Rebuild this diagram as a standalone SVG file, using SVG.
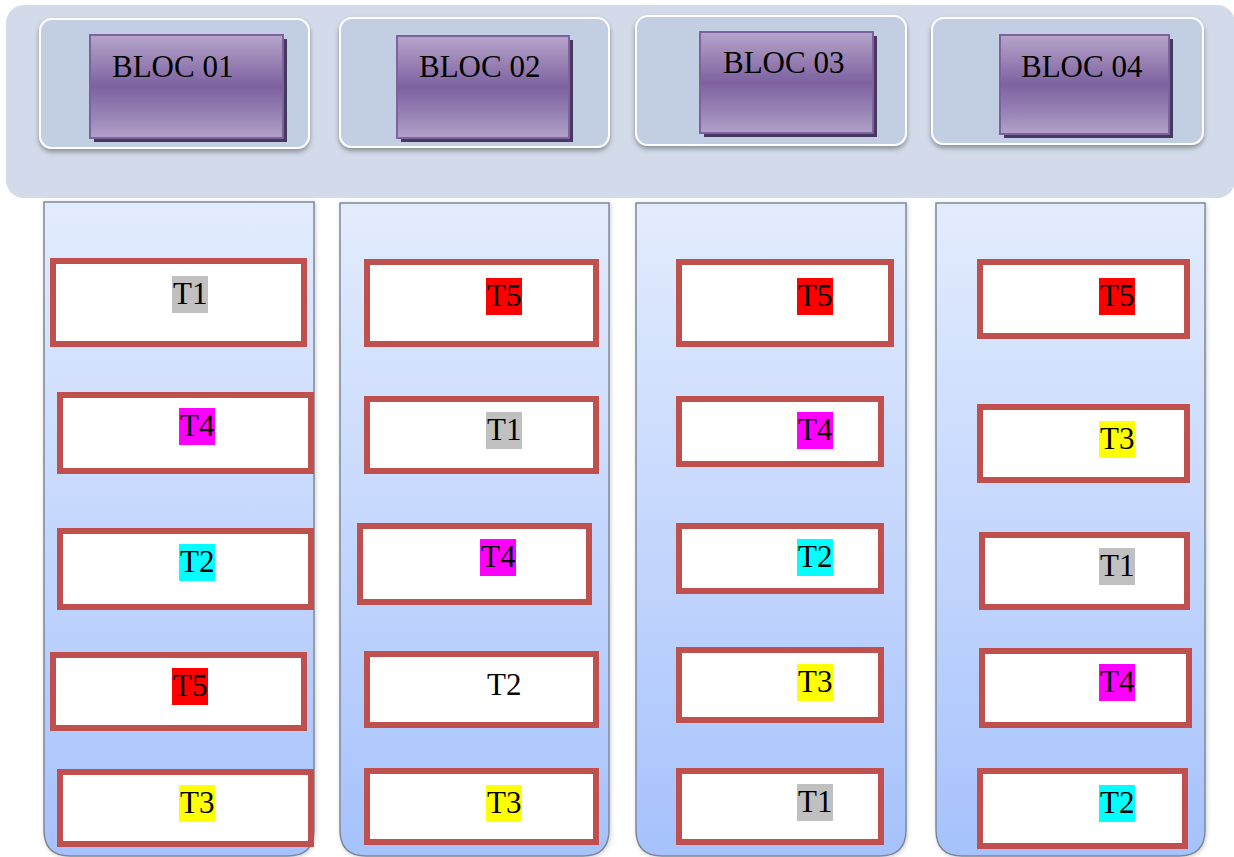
<svg xmlns="http://www.w3.org/2000/svg" width="1234" height="857" viewBox="0 0 1234 857">
<defs>
<linearGradient id="pg" x1="0" y1="0" x2="0" y2="1">
<stop offset="0" stop-color="#b5a5ca"/>
<stop offset="0.2" stop-color="#a08ab9"/>
<stop offset="0.5" stop-color="#7d62a0"/>
<stop offset="0.75" stop-color="#9480b2"/>
<stop offset="1" stop-color="#b2a1c9"/>
</linearGradient>
<linearGradient id="cg" x1="0" y1="0" x2="0" y2="1">
<stop offset="0" stop-color="#e3ecfd"/>
<stop offset="1" stop-color="#a6c2fc"/>
</linearGradient>
<filter id="sh" x="-10%" y="-10%" width="120%" height="130%">
<feDropShadow dx="0" dy="3" stdDeviation="2.5" flood-color="#000" flood-opacity="0.35"/>
</filter>
<filter id="csh" x="-5%" y="-2%" width="110%" height="104%">
<feDropShadow dx="1" dy="1" stdDeviation="2" flood-color="#000" flood-opacity="0.2"/>
</filter>
</defs>
<style>
.band{fill:#d3dbea}
.cont{fill:#c2cee1;stroke:#ffffff;stroke-width:2;filter:url(#sh)}
.pshadow{fill:#47385f}
.pbox{fill:url(#pg);stroke:#7e62a0;stroke-width:2}
.col{fill:url(#cg);stroke:#7d8898;stroke-width:1.5;filter:url(#csh)}
.task{fill:#ffffff;stroke:#c0504d;stroke-width:6}
.t{font-family:"Liberation Serif","Times New Roman",serif;font-size:31px;fill:#000}
.hg{fill:#c0c0c0}.hm{fill:#ff00ff}.hc{fill:#00ffff}.hr{fill:#ff0000}.hy{fill:#ffff00}
</style>
<rect class="band" x="6" y="5" width="1229" height="193" rx="18"/>
<g id="bloc01">
<rect class="cont" x="40" y="19" width="269" height="129" rx="12"/>
<rect class="pshadow" x="94" y="39" width="193" height="103"/>
<rect class="pbox" x="90" y="35" width="193" height="103"/>
<text class="t" x="112" y="77">BLOC 01</text>
</g>
<g id="bloc02">
<rect class="cont" x="340" y="18" width="269" height="129" rx="12"/>
<rect class="pshadow" x="401" y="40" width="172" height="102"/>
<rect class="pbox" x="397" y="36" width="172" height="102"/>
<text class="t" x="419" y="77">BLOC 02</text>
</g>
<g id="bloc03">
<rect class="cont" x="636" y="16" width="270" height="129" rx="12"/>
<rect class="pshadow" x="704" y="36" width="173" height="101"/>
<rect class="pbox" x="700" y="32" width="173" height="101"/>
<text class="t" x="723" y="73">BLOC 03</text>
</g>
<g id="bloc04">
<rect class="cont" x="932" y="18" width="271" height="126" rx="12"/>
<rect class="pshadow" x="1004" y="39" width="169" height="99"/>
<rect class="pbox" x="1000" y="35" width="169" height="99"/>
<text class="t" x="1021" y="77">BLOC 04</text>
</g>
<g id="col1">
<path class="col" d="M44,202 H314 V830 Q314,856 288,856 H70 Q44,856 44,830 Z"/>
</g>
<g id="col2">
<path class="col" d="M340,203 H609 V830 Q609,856 583,856 H366 Q340,856 340,830 Z"/>
</g>
<g id="col3">
<path class="col" d="M636,203 H906 V830 Q906,856 880,856 H662 Q636,856 636,830 Z"/>
</g>
<g id="col4">
<path class="col" d="M936,203 H1205 V830 Q1205,856 1179,856 H962 Q936,856 936,830 Z"/>
</g>
<g id="c1t1"><rect class="task" x="53" y="261" width="251" height="83"/><rect class="hg" x="172" y="276" width="36" height="37"/><text class="t" x="173" y="304">T1</text></g>
<g id="c1t4"><rect class="task" x="60" y="395" width="251" height="76"/><rect class="hm" x="179" y="408" width="36" height="37"/><text class="t" x="180" y="436">T4</text></g>
<g id="c1t2"><rect class="task" x="60" y="531" width="251" height="76"/><rect class="hc" x="179" y="544" width="36" height="37"/><text class="t" x="180" y="572">T2</text></g>
<g id="c1t5"><rect class="task" x="53" y="655" width="251" height="73"/><rect class="hr" x="172" y="668" width="36" height="37"/><text class="t" x="173" y="696">T5</text></g>
<g id="c1t3"><rect class="task" x="60" y="772" width="251" height="72"/><rect class="hy" x="179" y="785" width="36" height="37"/><text class="t" x="180" y="813">T3</text></g>
<g id="c2t5"><rect class="task" x="367" y="262" width="229" height="82"/><rect class="hr" x="486" y="278" width="36" height="37"/><text class="t" x="487" y="306">T5</text></g>
<g id="c2t1"><rect class="task" x="367" y="399" width="229" height="72"/><rect class="hg" x="486" y="412" width="36" height="37"/><text class="t" x="487" y="440">T1</text></g>
<g id="c2t4"><rect class="task" x="360" y="526" width="229" height="76"/><rect class="hm" x="480" y="539" width="36" height="37"/><text class="t" x="481" y="567">T4</text></g>
<g id="c2t2"><rect class="task" x="367" y="654" width="229" height="71"/><text class="t" x="487" y="695">T2</text></g>
<g id="c2t3"><rect class="task" x="367" y="771" width="229" height="71"/><rect class="hy" x="486" y="785" width="36" height="37"/><text class="t" x="487" y="813">T3</text></g>
<g id="c3t5"><rect class="task" x="679" y="262" width="212" height="82"/><rect class="hr" x="797" y="278" width="36" height="37"/><text class="t" x="798" y="306">T5</text></g>
<g id="c3t4"><rect class="task" x="679" y="399" width="202" height="65"/><rect class="hm" x="797" y="412" width="36" height="37"/><text class="t" x="798" y="440">T4</text></g>
<g id="c3t2"><rect class="task" x="679" y="526" width="202" height="65"/><rect class="hc" x="797" y="539" width="36" height="37"/><text class="t" x="798" y="567">T2</text></g>
<g id="c3t3"><rect class="task" x="679" y="650" width="202" height="70"/><rect class="hy" x="797" y="664" width="36" height="37"/><text class="t" x="798" y="692">T3</text></g>
<g id="c3t1"><rect class="task" x="679" y="771" width="202" height="71"/><rect class="hg" x="797" y="784" width="36" height="37"/><text class="t" x="798" y="812">T1</text></g>
<g id="c4t5"><rect class="task" x="980" y="262" width="207" height="74"/><rect class="hr" x="1099" y="278" width="36" height="37"/><text class="t" x="1100" y="306">T5</text></g>
<g id="c4t3"><rect class="task" x="980" y="407" width="207" height="73"/><rect class="hy" x="1099" y="421" width="36" height="37"/><text class="t" x="1100" y="449">T3</text></g>
<g id="c4t1"><rect class="task" x="982" y="535" width="205" height="72"/><rect class="hg" x="1099" y="548" width="36" height="37"/><text class="t" x="1100" y="576">T1</text></g>
<g id="c4t4"><rect class="task" x="982" y="651" width="207" height="74"/><rect class="hm" x="1099" y="664" width="36" height="37"/><text class="t" x="1100" y="692">T4</text></g>
<g id="c4t2"><rect class="task" x="980" y="771" width="205" height="75"/><rect class="hc" x="1099" y="785" width="36" height="37"/><text class="t" x="1100" y="813">T2</text></g>
<g id="connectors"></g>
</svg>
